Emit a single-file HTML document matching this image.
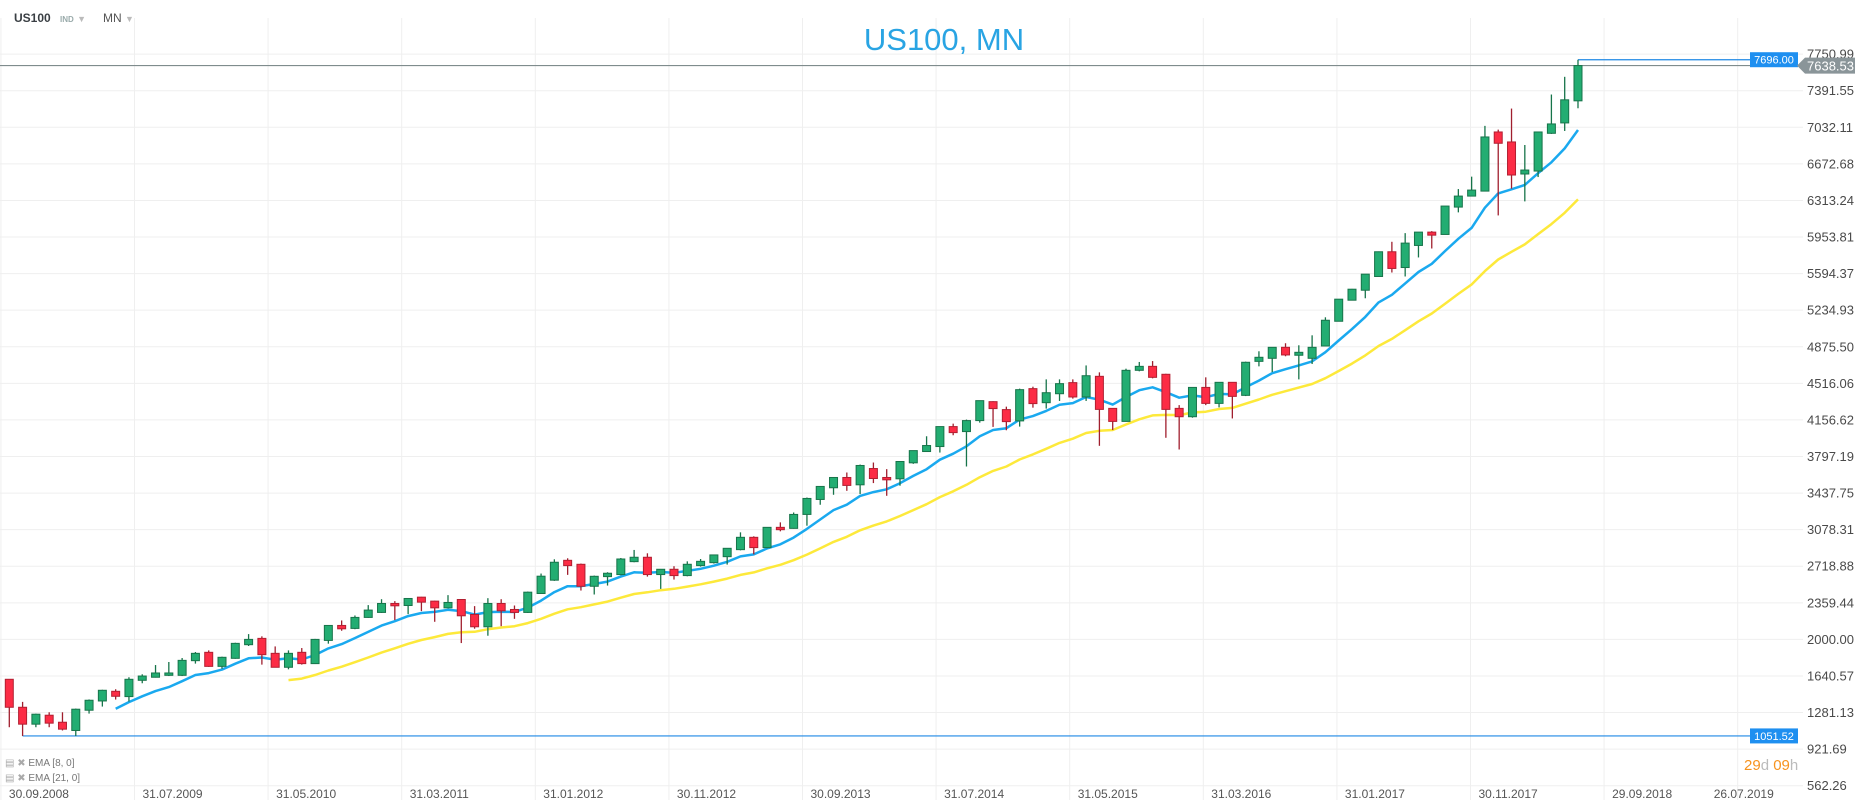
<!DOCTYPE html>
<html><head><meta charset="utf-8"><style>
html,body{margin:0;padding:0;background:#fff;}
body{width:1866px;height:811px;overflow:hidden;position:relative;font-family:"Liberation Sans",sans-serif;}
svg{position:absolute;left:0;top:0;}
</style></head><body>
<svg id="chart" width="1866" height="811"></svg>
<script>
const openV=[1608,1333,1167,1255,1186,1105,1304,1395,1490,1438,1598,1628,1647,1647,1791,1873,1735,1814,1948,2010,1863,1726,1873,1762,1990,2137,2108,2216,2265,2353,2333,2415,2376,2310,2392,2245,2124,2353,2294,2265,2451,2582,2777,2738,2522,2617,2637,2764,2807,2637,2689,2627,2725,2754,2813,2882,3003,2902,3101,3091,3228,3375,3490,3591,3519,3679,3591,3578,3735,3846,3895,4091,4042,4150,4336,4258,4147,4464,4326,4414,4523,4382,4585,4270,4142,4644,4683,4605,4270,4188,4476,4319,4526,4398,4732,4762,4870,4792,4762,4883,5126,5333,5431,5566,5809,5654,5871,6002,5979,6248,6356,6405,6986,6888,6573,6602,6973,7075,7292];
const highV=[1610,1386,1270,1284,1284,1320,1410,1505,1510,1628,1657,1748,1778,1817,1876,1892,1830,1967,2052,2030,1931,1892,1915,2005,2140,2186,2235,2337,2395,2376,2405,2418,2380,2435,2395,2327,2405,2395,2333,2470,2647,2787,2797,2745,2627,2660,2800,2879,2846,2692,2719,2767,2790,2830,2895,3052,3013,3101,3150,3247,3394,3503,3591,3640,3718,3738,3673,3748,3855,3996,4091,4120,4160,4346,4340,4287,4464,4483,4555,4555,4555,4692,4624,4270,4660,4726,4735,4610,4302,4476,4575,4526,4529,4729,4831,4870,4910,4890,4988,5165,5343,5444,5589,5812,5907,5992,6002,6012,6258,6425,6547,7046,7009,7216,6858,6986,7354,7528,7696];
const lowV=[1137,1051,1137,1137,1105,1051,1271,1340,1409,1389,1569,1625,1640,1640,1762,1730,1712,1810,1935,1752,1726,1706,1752,1758,1958,2085,2100,2212,2260,2190,2248,2278,2173,2305,1964,2105,2036,2130,2202,2260,2446,2575,2634,2480,2441,2529,2630,2758,2617,2496,2588,2620,2715,2745,2735,2875,2836,2895,3062,3088,3117,3323,3421,3460,3428,3536,3411,3510,3725,3842,3836,4006,3699,4130,4088,4055,4091,4277,4268,4343,4366,4343,3902,4057,4142,4634,4565,3981,3866,4178,4302,4280,4171,4391,4683,4627,4782,4555,4706,4880,5126,5330,5352,5566,5605,5566,5753,5841,5979,6196,6356,6405,6166,6429,6304,6543,6967,6996,7219];
const closeV=[1333,1167,1265,1177,1118,1314,1402,1500,1441,1608,1640,1670,1670,1794,1863,1735,1824,1961,2000,1850,1726,1863,1762,2000,2137,2104,2216,2288,2353,2330,2402,2366,2310,2363,2232,2124,2353,2281,2265,2464,2621,2758,2725,2522,2620,2650,2790,2807,2637,2689,2627,2738,2767,2830,2895,3003,2902,3101,3078,3228,3385,3503,3591,3513,3709,3581,3568,3748,3855,3905,4091,4032,4150,4346,4268,4140,4454,4317,4424,4513,4382,4591,4260,4142,4644,4683,4575,4260,4188,4476,4319,4526,4388,4723,4772,4870,4795,4821,4870,5136,5343,5441,5589,5809,5645,5894,6002,5972,6258,6356,6415,6937,6875,6563,6612,6986,7065,7302,7638.53];
const yTicks=[7750.99,7391.55,7032.11,6672.68,6313.24,5953.81,5594.37,5234.93,4875.50,4516.06,4156.62,3797.19,3437.75,3078.31,2718.88,2359.44,2000.00,1640.57,1281.13,921.69,562.26];
const xTickLabels=["30.09.2008","31.07.2009","31.05.2010","31.03.2011","31.01.2012","30.11.2012","30.09.2013","31.07.2014","31.05.2015","31.03.2016","31.01.2017","30.11.2017","29.09.2018","26.07.2019"];
const lastPrice=7638.53, highMark=7696.00, lowMark=1051.52;

const NS="http://www.w3.org/2000/svg";
const svg=document.getElementById('chart');
function y(v){return 90.7+(7391.55-v)/359.44*36.58;}
const x0=9.3, dx=13.294;
function x(i){return x0+i*dx;}
function mk(tag,attrs,parent){const e=document.createElementNS(NS,tag);for(const k in attrs)e.setAttribute(k,attrs[k]);(parent||svg).appendChild(e);return e;}

const grid=mk('g',{});


yTicks.forEach(v=>{
  const l=mk('line',{x1:0,x2:1803,y1:y(v),y2:y(v),stroke:'#efefef','stroke-width':1},grid);
  
  
  const t=mk('text',{x:1807,y:y(v)+4.5,'font-size':13,fill:'#4a4a4a'});
  t.textContent=v.toFixed(2);
  
  
});
xTickLabels.forEach((s,k)=>{
  const gx=1737.7-(13-k)*133.6;
  const l=mk('line',{x1:gx,x2:gx,y1:18,y2:800,stroke:'#efefef','stroke-width':1},grid);
  
  
  const t=mk('text',{x:k==13?gx-24:gx+8,y:798,'font-size':12,fill:'#555'});
  t.textContent=s;
  
  
});

const pl=mk('line',{x1:0,x2:1775,y1:y(lastPrice),y2:y(lastPrice),stroke:'#7f8c8d','stroke-width':1.2});


const hl=mk('line',{x1:x(118),x2:1750,y1:y(highMark),y2:y(highMark),stroke:'#1e88e5','stroke-width':1.2});


const ll=mk('line',{x1:x(1),x2:1750,y1:y(lowMark),y2:y(lowMark),stroke:'#1e88e5','stroke-width':1.2});



function ema(n){const out=[];const k=2/(n+1);let s=0;for(let i=0;i<closeV.length;i++){if(i<n-1){s+=closeV[i];out.push(null);}else if(i==n-1){s+=closeV[i];out.push(s/n);}else out.push(closeV[i]*k+out[i-1]*(1-k));}return out;}
function drawLine(arr,n,color,name){let d='';arr.forEach((v,i)=>{if(v==null||i<n)return;d+=(d?'L':'M')+x(i).toFixed(1)+','+y(v).toFixed(1);});
  const p=mk('path',{d:d,fill:'none',stroke:color,'stroke-width':2.5,'stroke-linejoin':'round'});
  
  }
drawLine(ema(21),21,'#fde93b','ema-21-line');
drawLine(ema(8),8,'#1aa9ef','ema-8-line');

closeV.forEach((c,i)=>{
  const o=openV[i],up=c>=o;
  const g=mk('g',{});
  
  
  const wc=up?'#17744a':'#a01f2e';
  mk('line',{x1:x(i),x2:x(i),y1:y(highV[i]),y2:y(lowV[i]),stroke:wc,'stroke-width':1.3},g);
  const top=y(Math.max(o,c)),bot=y(Math.min(o,c));
  mk('rect',{x:x(i)-4,y:top,width:8,height:Math.max(1.5,bot-top),fill:up?'#23ad72':'#fc2c45',stroke:up?'#17744a':'#b21f31','stroke-width':1},g);
});

function label(bx,by,w,h,txt,bg,name,fs){
  const g=mk('g',{});
  
  
  mk('rect',{x:bx,y:by,width:w,height:h,fill:bg},g);
  const t=mk('text',{x:bx+w/2,y:by+h/2+4,'text-anchor':'middle','font-size':fs,fill:'#fff'},g);t.textContent=txt;
}
label(1750,y(highMark)-7.5,48,15,highMark.toFixed(2),'#1e8ff0','high-price-tag',11);
label(1750,y(lowMark)-7.5,48,15,lowMark.toFixed(2),'#1e8ff0','low-price-tag',11);
const gp=mk('g',{});


const ly=y(lastPrice);
mk('path',{d:`M1797,${ly} L1805,${ly-8} L1855,${ly-8} L1855,${ly+8} L1805,${ly+8} Z`,fill:'#8a9599'},gp);
const lt=mk('text',{x:1807,y:ly+5,'font-size':13,fill:'#fff'},gp);lt.textContent=lastPrice.toFixed(2);
</script>
<div style="position:absolute;left:14px;top:11px;font-size:12px;font-weight:bold;color:#3a3f44;">US100 <span style="font-size:8px;color:#9aa;margin-left:6px;">IND</span> <span style="color:#bbb;font-size:9px;">▼</span></div>
<div style="position:absolute;left:103px;top:11px;font-size:12px;color:#555;">MN <span style="color:#bbb;font-size:9px;">▼</span></div>
<div style="position:absolute;left:844px;top:22px;width:200px;text-align:center;font-size:31px;color:#29a4e3;">US100, MN</div>
<div style="position:absolute;left:5px;top:758px;font-size:10px;color:#777;"><span style="color:#aaa">▤ ✖</span> EMA [8, 0]</div>
<div style="position:absolute;left:5px;top:773px;font-size:10px;color:#777;"><span style="color:#aaa">▤ ✖</span> EMA [21, 0]</div>
<div style="position:absolute;left:1744px;top:757px;font-size:15px;color:#f7931e;">29<span style="color:#bbb">d</span> 09<span style="color:#bbb">h</span></div>
</body></html>
